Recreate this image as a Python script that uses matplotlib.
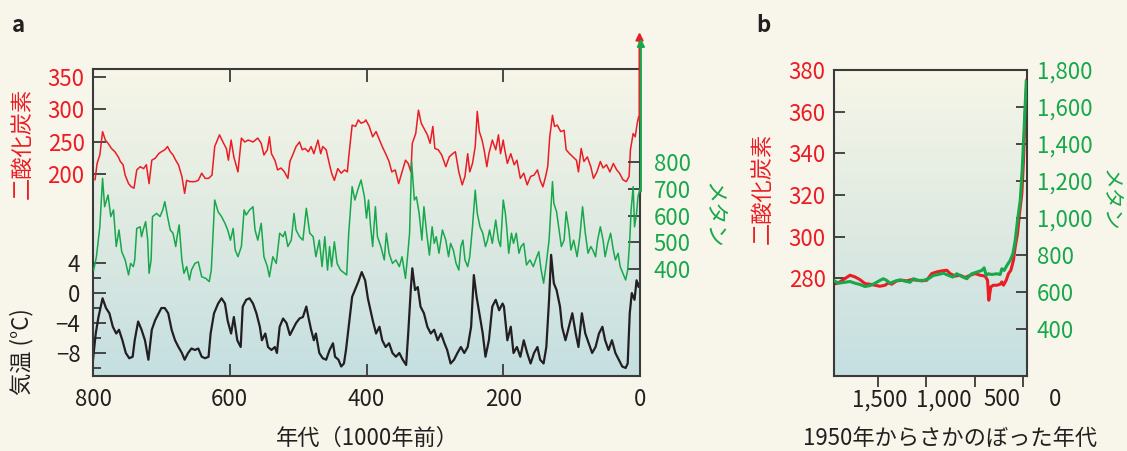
import numpy as np
import matplotlib
matplotlib.use('Agg')
import matplotlib.pyplot as plt
from matplotlib.colors import LinearSegmentedColormap
from matplotlib.transforms import blended_transform_factory

plt.rcParams['font.family'] = ['Noto Sans CJK JP', 'DejaVu Sans']

RED = '#ec1c24'
GREEN = '#18a84b'
BLACK = '#231f20'
BG = '#f8f6ea'
SPINE = '#3a3a3a'

# --- panel a: 800 000 lat, wiek w tys. lat ---
co2_age = [797, 794, 790, 786, 782, 778, 773, 768, 763, 760, 756, 753, 748, 744, 740, 736, 731, 726, 722,
           718, 714, 709, 704, 700, 695, 691, 687, 683, 678, 675, 670, 666, 663, 658, 651, 646, 641, 636,
           631, 626, 622, 615, 609, 605, 602, 598, 594, 588, 583, 578, 573, 566, 559, 554, 550, 545, 542,
           539, 534, 530, 525, 520, 515, 512, 508, 503, 498, 494, 490, 485, 481, 477, 471, 467, 464, 459,
           454, 451, 447, 442, 437, 432, 428, 426, 421, 416, 412, 408, 403, 401, 396, 391, 386, 381, 377,
           372, 367, 363, 358, 353, 348, 343, 339, 335, 333, 328, 324, 320, 316, 311, 307, 303, 300, 295,
           290, 284, 279, 274, 270, 265, 260, 256, 252, 249, 245, 241, 238, 235, 231, 228, 224, 221, 216,
           211, 207, 204, 200, 199, 194, 189, 184, 180, 175, 170, 165, 160, 155, 150, 146, 142, 138, 135,
           132, 128, 125, 121, 116, 111, 108, 103, 98, 93, 90, 86, 82, 77, 72, 68, 63, 58, 54, 49, 44, 39,
           34, 30, 25, 20, 16, 14, 10, 7, 4, 2, 0]
co2_ppm = [192, 217, 230, 266, 253, 248, 240, 235, 227, 220, 215, 199, 186, 181, 179, 207, 212, 209, 215,
           186, 222, 225, 232, 235, 238, 243, 235, 230, 220, 215, 197, 171, 191, 189, 189, 191, 202, 194,
           194, 199, 243, 261, 248, 240, 222, 253, 227, 204, 256, 250, 253, 250, 256, 248, 230, 238, 258,
           232, 222, 207, 210, 204, 194, 220, 230, 243, 250, 238, 240, 235, 243, 232, 253, 232, 243, 238,
           215, 202, 191, 209, 202, 207, 204, 227, 276, 274, 284, 279, 281, 284, 274, 258, 266, 253, 243,
           232, 220, 204, 207, 186, 204, 222, 217, 204, 248, 263, 299, 279, 271, 261, 248, 274, 240, 238,
           230, 212, 227, 232, 235, 204, 184, 197, 232, 204, 217, 243, 297, 266, 253, 238, 212, 232, 253,
           238, 261, 232, 253, 245, 217, 232, 215, 222, 194, 202, 184, 197, 199, 207, 191, 181, 197, 212,
           258, 291, 274, 276, 266, 268, 238, 232, 227, 222, 204, 240, 220, 227, 212, 194, 204, 220, 210,
           215, 204, 217, 207, 202, 192, 189, 197, 238, 263, 258, 279, 289, 285]

ch4_age = [799, 795, 790, 786, 783, 778, 774, 770, 766, 762, 758, 753, 748, 745, 741, 739, 736, 731, 729,
           726, 723, 720, 718, 715, 713, 707, 702, 698, 695, 691, 687, 683, 679, 677, 674, 670, 667, 663,
           659, 656, 651, 646, 641, 635, 630, 627, 622, 617, 612, 607, 603, 599, 595, 592, 588, 583, 579,
           576, 571, 566, 563, 559, 554, 550, 545, 542, 537, 532, 527, 522, 519, 515, 510, 506, 503, 498,
           493, 488, 483, 478, 474, 469, 465, 461, 457, 454, 451, 447, 443, 438, 432, 429, 426, 421, 417,
           412, 408, 403, 400, 397, 394, 391, 387, 384, 379, 374, 371, 367, 362, 357, 352, 348, 343, 340,
           337, 334, 330, 327, 323, 319, 316, 312, 308, 304, 301, 298, 294, 289, 284, 280, 277, 273, 269,
           265, 262, 259, 256, 252, 249, 245, 241, 238, 234, 230, 226, 223, 220, 216, 211, 207, 204, 200,
           197, 195, 192, 188, 185, 181, 177, 174, 170, 166, 161, 156, 151, 148, 145, 141, 137, 133, 131,
           128, 126, 122, 119, 115, 111, 108, 104, 101, 97, 92, 88, 84, 80, 76, 72, 69, 65, 62, 58, 54,
           51, 47, 43, 39, 36, 32, 29, 25, 21, 18, 15, 13, 10, 8, 5, 3, 0]
ch4_ppb = [396, 446, 558, 739, 633, 677, 596, 621, 484, 546, 465, 434, 378, 421, 409, 434, 552, 558, 521,
           552, 577, 508, 384, 434, 596, 608, 596, 621, 652, 596, 546, 534, 484, 521, 565, 434, 384, 409,
           359, 396, 421, 427, 371, 365, 353, 396, 658, 614, 596, 571, 546, 508, 552, 471, 446, 484, 621,
           602, 621, 633, 546, 508, 571, 446, 409, 371, 446, 421, 534, 521, 540, 484, 508, 608, 546, 521,
           508, 627, 534, 521, 446, 508, 409, 521, 396, 484, 409, 502, 421, 396, 384, 378, 534, 708, 658,
           702, 733, 670, 590, 658, 558, 484, 633, 521, 484, 434, 534, 459, 421, 434, 409, 446, 365, 446,
           534, 801, 658, 670, 608, 508, 633, 534, 452, 558, 496, 521, 459, 546, 508, 446, 496, 471, 421,
           396, 484, 508, 434, 409, 446, 558, 695, 608, 558, 534, 484, 508, 546, 496, 583, 508, 484, 658,
           610, 558, 459, 534, 496, 534, 459, 484, 496, 415, 434, 409, 446, 465, 403, 347, 421, 508, 596,
           727, 646, 614, 558, 484, 508, 614, 546, 471, 508, 446, 521, 633, 534, 459, 484, 471, 446, 508,
           558, 508, 446, 496, 534, 471, 434, 459, 409, 384, 359, 396, 508, 621, 708, 558, 608, 670, 700]

temp_age = [800, 796, 792, 786, 781, 776, 771, 766, 762, 757, 752, 747, 742, 739, 734, 729, 724, 719, 714,
            709, 705, 700, 695, 690, 685, 680, 675, 670, 666, 661, 656, 651, 646, 641, 636, 631, 628, 623,
            617, 612, 607, 603, 598, 594, 589, 584, 581, 576, 571, 566, 561, 556, 553, 548, 544, 539, 534,
            531, 527, 522, 517, 512, 508, 503, 498, 493, 488, 485, 481, 477, 474, 469, 464, 459, 454, 449,
            446, 441, 437, 433, 430, 426, 421, 417, 412, 407, 402, 398, 391, 386, 381, 377, 372, 367, 362,
            357, 352, 347, 342, 339, 335, 333, 329, 325, 321, 316, 311, 306, 301, 296, 291, 286, 282, 277,
            272, 267, 262, 257, 252, 247, 243, 239, 235, 230, 226, 221, 216, 211, 206, 201, 199, 194, 189,
            185, 180, 175, 170, 165, 160, 155, 150, 146, 141, 137, 133, 130, 126, 122, 117, 114, 109, 104,
            99, 94, 90, 85, 80, 75, 70, 65, 60, 55, 51, 46, 41, 36, 31, 26, 21, 18, 15, 12, 8, 5, 2, 0]
temp_c = [-8.9, -5.4, -3.2, -0.7, -2.0, -2.7, -4.5, -5.4, -4.9, -6.3, -8.0, -8.7, -8.5, -6.3, -3.8, -4.9,
          -6.3, -8.9, -4.9, -3.6, -2.9, -2.0, -2.0, -2.7, -4.9, -6.3, -7.2, -8.0, -8.9, -8.0, -7.4, -7.6,
          -7.4, -8.5, -8.7, -8.5, -5.4, -2.7, -1.4, -0.7, -1.4, -3.7, -5.4, -3.2, -6.3, -7.2, -1.8, -0.9,
          -0.7, -1.4, -2.7, -4.5, -6.3, -5.4, -7.2, -7.6, -7.2, -8.0, -4.5, -3.4, -4.0, -5.6, -4.9, -4.0,
          -3.4, -3.2, -1.8, -3.2, -4.9, -6.3, -5.4, -8.0, -8.7, -8.9, -7.6, -6.7, -8.5, -8.9, -9.8, -9.4,
          -7.6, -4.5, -0.5, 0.4, 1.5, 2.8, 1.7, -0.7, -3.6, -5.4, -4.5, -6.3, -7.2, -6.7, -8.0, -8.5, -8.0,
          -8.9, -9.6, -5.4, 0.8, 3.3, 0.4, 0.8, -1.8, -2.7, -4.5, -5.4, -4.9, -6.3, -5.4, -6.7, -7.6, -9.4,
          -8.9, -8.0, -7.2, -8.0, -7.2, -4.5, 2.4, -0.5, -2.7, -5.4, -8.5, -6.3, -1.8, -0.9, -2.3, -1.4,
          -1.8, -6.3, -4.5, -8.0, -7.2, -8.5, -6.3, -8.0, -9.4, -8.0, -7.2, -8.9, -9.4, -7.2, -0.9, 5.1,
          1.3, 0.4, -1.8, -4.5, -6.3, -4.5, -2.7, -5.4, -7.2, -2.7, -5.4, -6.7, -8.0, -7.2, -5.4, -4.5,
          -6.3, -7.6, -6.3, -8.0, -8.9, -9.8, -10.0, -9.4, -2.7, 0.0, -0.9, 1.7, 0.8, 1.5]

# --- panel b: ostatnie 2000 lat (lata przed 1950) ---
b_co2_year = [1960, 1911, 1842, 1790, 1738, 1687, 1635, 1583, 1531, 1480, 1428, 1393, 1359, 1307, 1255,
              1203, 1152, 1100, 1048, 996, 945, 893, 841, 789, 755, 703, 651, 600, 548, 496, 444, 393, 368,
              355, 334, 307, 272, 237, 220, 203, 175, 151, 127, 100, 82, 58, 37, 13, -4, -21, -39]
b_co2 = [277.1, 277.7, 279.8, 281.4, 280.6, 279.3, 277.4, 277.1, 276.6, 276.1, 276.6, 277.7, 277.1, 278.7,
         279.0, 278.7, 279.3, 279.0, 278.7, 279.0, 282.2, 283.0, 283.5, 283.8, 282.2, 281.0, 281.4, 280.3,
         281.4, 282.2, 281.4, 281.0, 279.0, 269.4, 275.8, 276.6, 276.6, 277.1, 278.2, 276.6, 279.0, 282.2,
         283.8, 288.6, 295.0, 301.4, 311.1, 320.7, 336.7, 359.2, 375.2]
b_ch4_year = [1960, 1911, 1842, 1790, 1738, 1687, 1635, 1583, 1531, 1480, 1445, 1411, 1376, 1324, 1272,
              1221, 1169, 1134, 1083, 1031, 979, 927, 876, 824, 772, 727, 686, 634, 582, 531, 479, 427, 403,
              382, 358, 324, 272, 237, 220, 196, 168, 134, 106, 82, 58, 30, 10, -11, -32]
b_ch4 = [662, 647, 652, 656, 647, 640, 629, 634, 647, 662, 671, 662, 647, 658, 665, 658, 652, 671, 662,
         662, 671, 689, 694, 701, 689, 680, 698, 683, 671, 698, 707, 716, 730, 689, 698, 694, 698, 694,
         725, 716, 743, 770, 806, 878, 987, 1095, 1258, 1493, 1737]

a_xticks = [800, 600, 400, 200, 0]
a_co2_ticks = [200, 250, 300, 350]
a_ch4_ticks = [400, 500, 600, 700, 800]
a_temp_ticks = [-8, -4, 0, 4]
a_temp_minor = [-10, -6, -2, 2]
b_xticks = [1500, 1000, 500, 0]
b_xlabels = ['1,500', '1,000', '500', '0']
b_co2_ticks = [280, 300, 320, 340, 360, 380]
b_ch4_ticks = [400, 600, 800, 1000, 1200, 1400, 1600, 1800]

W, H = 1127, 451
fig = plt.figure(figsize=(W / 100, H / 100), dpi=100, facecolor=BG)
grad = LinearSegmentedColormap.from_list('tlo', ['#f7f6e8', '#dfeae2', '#c5dfe1'])


def px(x, y):
    return x / W, 1 - y / H


def tlo(ax):
    ax.imshow(np.linspace(0, 1, 256).reshape(-1, 1), cmap=grad, aspect='auto',
              extent=(0, 1, 0, 1), transform=ax.transAxes, zorder=0)


def ramka(ax):
    for s in ax.spines.values():
        s.set_color(SPINE)
        s.set_linewidth(1.5)


# ===== panel a =====
ax = fig.add_axes([93 / W, 75 / H, 547 / W, 307 / H])
tlo(ax)
ax.plot(temp_age, temp_c, color=BLACK, lw=1.6, zorder=2)
ax.set_xlim(800, 0)
ax.set_ylim(-11.07, 29.9)
ax.set_xticks(a_xticks)
ax.set_xticklabels([str(v) for v in a_xticks])
ax.set_yticks(a_temp_ticks)
ax.set_yticklabels([str(v).replace('-', '\u2212') for v in a_temp_ticks])
ax.set_yticks(a_temp_minor, minor=True)
ax.tick_params(axis='x', direction='in', length=9, width=1.3, top=True, labelsize=16, pad=9,
               color=SPINE, labelcolor=BLACK)
ax.tick_params(axis='y', which='major', direction='in', length=9, width=1.3, labelsize=16, pad=9,
               color=SPINE, labelcolor=BLACK)
ax.tick_params(axis='y', which='minor', direction='in', length=6, width=1.3, color=SPINE)
ramka(ax)

ax_co2 = ax.twinx()
ax_co2.plot(co2_age, co2_ppm, color=RED, lw=1.1)
ax_co2.set_ylim(-110, 362.3)
ax_co2.yaxis.set_ticks_position('left')
ax_co2.set_yticks(a_co2_ticks)
ax_co2.tick_params(axis='y', direction='in', length=9, width=1.3, labelsize=16, pad=6,
                   color=SPINE, labelcolor=RED)
for s in ax_co2.spines.values():
    s.set_visible(False)
ax_co2.annotate('', xy=(0.7, 419), xytext=(0.7, 283), annotation_clip=False,
                arrowprops=dict(arrowstyle='-|>', color=RED, lw=1.5, mutation_scale=11,
                                shrinkA=0, shrinkB=0))

ax_ch4 = ax.twinx()
ax_ch4.plot(ch4_age, ch4_ppb, color=GREEN, lw=1.1)
ax_ch4.set_ylim(0, 1148)
ax_ch4.set_yticks(a_ch4_ticks)
ax_ch4.tick_params(axis='y', direction='in', length=9, width=1.3, labelsize=16, pad=10,
                   color=SPINE, labelcolor=GREEN)
for s in ax_ch4.spines.values():
    s.set_visible(False)
ax_ch4.annotate('', xy=(-1.3, 1262), xytext=(-1.3, 690), annotation_clip=False,
                arrowprops=dict(arrowstyle='-|>', color=GREEN, lw=1.5, mutation_scale=11,
                                shrinkA=0, shrinkB=0))

fig.text(*px(18, 25), 'a', fontsize=16, fontweight='bold', ha='center', va='center', color=BLACK)
fig.text(*px(22, 143), '二酸化炭素', color=RED, fontsize=16, rotation=90, ha='center', va='center')
fig.text(*px(22, 352), '気温 (°C)', color=BLACK, fontsize=16, rotation=90, ha='center', va='center')
fig.text(*px(713, 215), 'メタン', color=GREEN, fontsize=16, rotation=270, ha='center', va='center')
fig.text(*px(367, 438), '年代（1000年前）', color=BLACK, fontsize=16, ha='center', va='center')

# ===== panel b =====
axb = fig.add_axes([834 / W, 75 / H, 193 / W, 306 / H])
tlo(axb)
axb.plot(b_co2_year, b_co2, color=RED, lw=2.2, zorder=2)
axb.set_xlim(1955, -40)
axb.set_ylim(233, 380)
axb.set_xticks(b_xticks)
axb.set_xticklabels([])
axb.tick_params(axis='x', direction='out', length=8, width=1.3, color=SPINE)
axb.set_yticks(b_co2_ticks)
axb.tick_params(axis='y', direction='in', length=8, width=1.3, labelsize=16, pad=6,
                color=SPINE, labelcolor=RED)
ramka(axb)

# podpisy osi x rozstawione jak w oryginale
tr = blended_transform_factory(axb.transData, axb.transAxes)
for xpos, lab in zip([1479, 817, 216, -332], b_xlabels):
    axb.text(xpos, -0.078, lab, transform=tr, fontsize=16, ha='center', va='center',
             color=BLACK, clip_on=False)

axb_ch4 = axb.twinx()
axb_ch4.plot(b_ch4_year, b_ch4, color=GREEN, lw=2.2)
axb_ch4.set_ylim(145, 1800)
axb_ch4.set_yticks(b_ch4_ticks)
axb_ch4.set_yticklabels(['{:,}'.format(v) for v in b_ch4_ticks])
axb_ch4.tick_params(axis='y', direction='in', length=8, width=1.3, labelsize=16, pad=7,
                    color=SPINE, labelcolor=GREEN)
for s in axb_ch4.spines.values():
    s.set_visible(False)

fig.text(*px(763, 25), 'b', fontsize=16, fontweight='bold', ha='center', va='center', color=BLACK)
fig.text(*px(762, 188), '二酸化炭素', color=RED, fontsize=16, rotation=90, ha='center', va='center')
fig.text(*px(1110, 200), 'メタン', color=GREEN, fontsize=15, rotation=270, ha='center', va='center')
fig.text(*px(950, 438), '1950年からさかのぼった年代', color=BLACK, fontsize=16, ha='center', va='center')

fig.savefig('out.png', dpi=100, facecolor=BG)
